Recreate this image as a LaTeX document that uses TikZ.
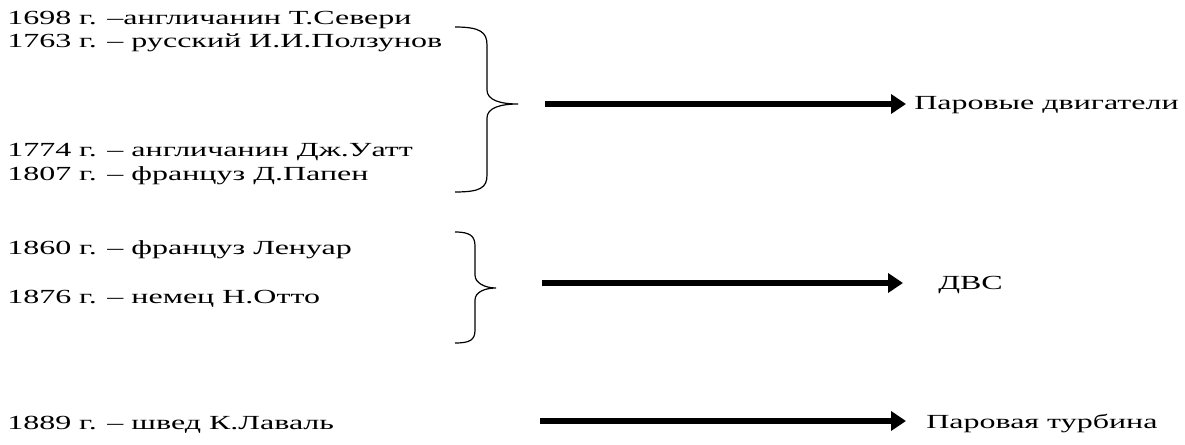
\documentclass[tikz,border=0pt]{standalone}
\usepackage{fontspec}
\setmainfont[FakeStretch=1.6]{Liberation Serif}
\usetikzlibrary{arrows.meta}

\begin{document}
\begin{tikzpicture}[x=0.75pt,y=-0.75pt]
		\useasboundingbox (0,0) rectangle (1185,445);
		\begin{scope}[every node/.style={anchor=base west,inner sep=0pt,font=\fontsize{15}{17}\selectfont}]
		    \node (sev) at (7,25) {1698 г. –англичанин Т.Севери};
		    \node (polz) at (7,48) {1763 г. – русский И.И.Ползунов};
		    \node (uatt) at (7,157) {1774 г. – англичанин Дж.Уатт};
		    \node (papen) at (7,181) {1807 г. – француз Д.Папен};
		    \node (lenuar) at (7,255) {1860 г. – француз Ленуар};
		    \node (otto) at (7,304) {1876 г. – немец Н.Отто};
		    \node (laval) at (7,429) {1889 г. – швед К.Лаваль};
		    \node (par) at (914,110) {Паровые двигатели};
		    \node (dvs) at (938,290) {ДВС};
		    \node (turb) at (926,428) {Паровая турбина};
		\end{scope}
		
		% braces
		\begin{scope}[line width=0.9pt]
		    \draw (455,27) .. controls (480,27) and (487,32) .. (487,45) -- (487,90)
		        .. controls (487,100) and (500,104) .. (518,104)
		        .. controls (500,104) and (487,108) .. (487,118) -- (487,175)
		        .. controls (487,188) and (480,192) .. (455,192);
		    \draw (455,232) .. controls (470,232) and (475,236) .. (475,246) -- (475,275)
		        .. controls (475,283) and (485,288) .. (496,288)
		        .. controls (485,288) and (475,292) .. (475,300) -- (475,330)
		        .. controls (475,340) and (470,343) .. (455,343);
		\end{scope}
		
		\begin{scope}[>={Triangle[length=11.25pt,width=14.25pt]},line width=4.5pt]
		    \coordinate (a1) at (545,104);
		    \coordinate (a2) at (542,283);
		    \coordinate (a3) at (540,421);
		    \draw[->] (a1) -- ([xshift=-8*0.75pt]par.west |- a1);
		    \draw[->] (a2) -- ([xshift=-35*0.75pt]dvs.west |- a2);
		    \draw[->] (a3) -- ([xshift=-20*0.75pt]turb.west |- a3);
		\end{scope}
		\end{tikzpicture}
\end{document}
